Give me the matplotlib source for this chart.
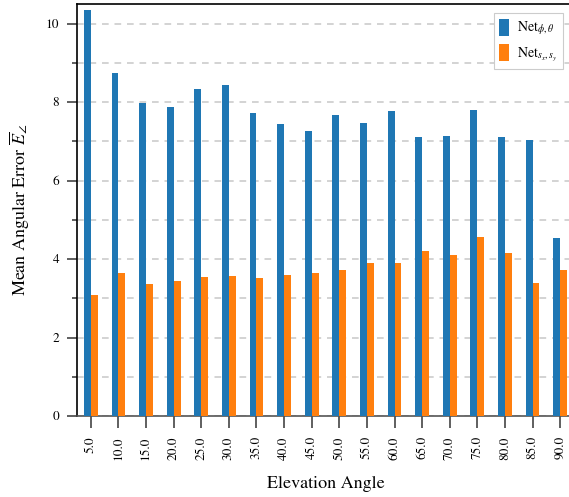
import matplotlib
matplotlib.use("Agg")
import matplotlib.pyplot as plt
import numpy as np

angles = ["5.0", "10.0", "15.0", "20.0", "25.0", "30.0", "35.0", "40.0", "45.0",
          "50.0", "55.0", "60.0", "65.0", "70.0", "75.0", "80.0", "85.0", "90.0"]
net_phi_theta = [10.34, 8.74, 7.98, 7.88, 8.33, 8.44, 7.72, 7.44, 7.27,
                 7.67, 7.47, 7.77, 7.11, 7.14, 7.80, 7.11, 7.04, 4.54]
net_sx_sy = [3.09, 3.65, 3.37, 3.45, 3.55, 3.57, 3.52, 3.60, 3.65,
             3.73, 3.91, 3.91, 4.21, 4.11, 4.57, 4.16, 3.40, 3.73]
labels = [r"Net$_{\phi,\theta}$", r"Net$_{s_x,s_y}$"]
colors = ["#1f77b4", "#ff7f0e"]

plt.rcParams["font.family"] = ["STIXGeneral", "Liberation Serif", "DejaVu Serif"]
plt.rcParams["mathtext.fontset"] = "stix"

W, H = 569, 497
fig = plt.figure(figsize=(W / 100, H / 100), dpi=100)
ax = fig.add_axes([77 / W, (H - 416) / H, 497 / W, 412 / H])

x = np.arange(len(angles))
w = 0.25
ax.bar(x - w / 2, net_phi_theta, width=w, color=colors[0], label=labels[0], zorder=3)
ax.bar(x + w / 2, net_sx_sy, width=w, color=colors[1], label=labels[1], zorder=3)

ax.set_xlim(-0.5, len(angles) - 0.5)
ax.set_ylim(0, 10.5)
ax.set_xticks(x)
ax.set_xticklabels(angles, rotation=90, fontsize=9.5)
ax.set_yticks([0, 2, 4, 6, 8, 10])
ax.set_yticks([1, 3, 5, 7, 9], minor=True)
ax.tick_params(axis="y", which="major", length=7, width=1.2, color="#444444", labelsize=9.5, pad=6)
ax.tick_params(axis="y", which="minor", length=3.5, width=1.2, color="#444444")
ax.tick_params(axis="x", which="major", length=8.5, width=1.2, color="#444444", labelsize=9.5, pad=6)

ax.grid(True, axis="y", which="both", linestyle=(0, (4, 3.5)), color="#cccccc", linewidth=1.2, zorder=0)
ax.set_axisbelow(True)

for s in ["left", "top", "right"]:
    ax.spines[s].set_color("black")
    ax.spines[s].set_linewidth(1.2)
ax.spines["bottom"].set_color("#555555")
ax.spines["bottom"].set_linewidth(1.2)

ax.set_xlabel("Elevation Angle", fontsize=13, labelpad=12)
ax.set_ylabel(r"Mean Angular Error $\overline{E}_{\angle}$", fontsize=13, labelpad=10)

leg = ax.legend(loc="upper right", bbox_to_anchor=(563 / W, 1 - 13 / H),
                bbox_transform=fig.transFigure, borderaxespad=0,
                fontsize=10, handlelength=0.7, handleheight=1.5, handletextpad=0.6,
                fancybox=False, edgecolor="#cccccc", framealpha=1)
leg.get_frame().set_linewidth(0.8)

fig.savefig("out.png", dpi=100)
